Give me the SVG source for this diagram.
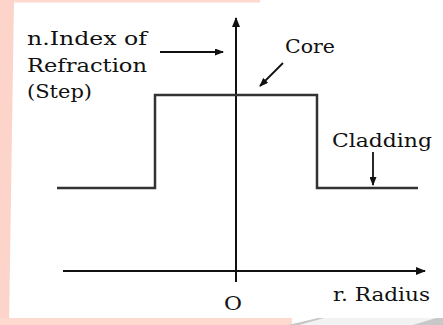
<svg xmlns="http://www.w3.org/2000/svg" width="443" height="325" viewBox="0 0 443 325">
<style>
.t{font-family:"DejaVu Serif","Liberation Serif",serif;font-size:18px;fill:#111}
.ax{stroke:#111;stroke-width:2;fill:none}
.st{stroke:#333;stroke-width:2.5;fill:none}
.ar{stroke:#111;stroke-width:1.8;fill:none}
</style>
<defs>
<marker id="ah" markerWidth="10" markerHeight="8" refX="9" refY="4" orient="auto" markerUnits="userSpaceOnUse">
<path d="M0,0 L10,4 L0,8 Z" fill="#111"/>
</marker>
<marker id="ahs" markerWidth="9" markerHeight="7" refX="8" refY="3.5" orient="auto" markerUnits="userSpaceOnUse">
<path d="M0,0 L9,3.5 L0,7 Z" fill="#111"/>
</marker>
</defs>
<rect width="443" height="325" fill="#fff"/>
<g id="frame">
<rect x="0" y="0" width="9" height="325" fill="#fdd9d0"/>
<polygon points="0,0 14,0 9,325 0,325" fill="#fcd4ca"/>
<rect x="14" y="0" width="246" height="2.5" fill="#fdd9d0"/>
<rect x="0" y="318" width="292" height="7" fill="#fdd9d0"/>
<polygon points="288,325 318,318 325,318 300,325" fill="#c8c8c8"/>
<polygon points="300,325 325,318 443,318 443,325" fill="#f2f2f2"/>
<polygon points="413,325 436,318 443,318 443,325" fill="#c8c8c8"/>
</g>
<g id="connectors">
<line id="y-axis" class="ax" x1="236" y1="282" x2="236" y2="18" marker-end="url(#ah)"/>
<line id="x-axis" class="ax" x1="63" y1="271" x2="425" y2="271" marker-end="url(#ah)"/>
<polyline id="step-profile" class="st" points="57,188 155,188 155,95 317,95 317,188 418,188"/>
<line id="index-arrow" class="ar" x1="160" y1="52" x2="223" y2="52" marker-end="url(#ahs)"/>
<line id="core-arrow" class="ar" x1="283" y1="63" x2="260" y2="86" marker-end="url(#ahs)"/>
<line id="cladding-arrow" class="ar" x1="373" y1="152" x2="373" y2="185" marker-end="url(#ahs)"/>
</g>
<g id="label-index">
<text class="t" x="27" y="45" textLength="120" lengthAdjust="spacingAndGlyphs">n.Index of</text>
<text class="t" x="27" y="72" textLength="120" lengthAdjust="spacingAndGlyphs">Refraction</text>
<text class="t" x="27" y="98" textLength="65" lengthAdjust="spacingAndGlyphs">(Step)</text>
</g>
<g id="label-core"><text class="t" x="285" y="53" textLength="50" lengthAdjust="spacingAndGlyphs">Core</text></g>
<g id="label-cladding"><text class="t" x="332" y="147" textLength="100" lengthAdjust="spacingAndGlyphs">Cladding</text></g>
<g id="label-origin"><text class="t" x="224" y="310" textLength="18" lengthAdjust="spacingAndGlyphs">O</text></g>
<g id="label-radius"><text class="t" x="333" y="301" textLength="97" lengthAdjust="spacingAndGlyphs">r. Radius</text></g>
</svg>
